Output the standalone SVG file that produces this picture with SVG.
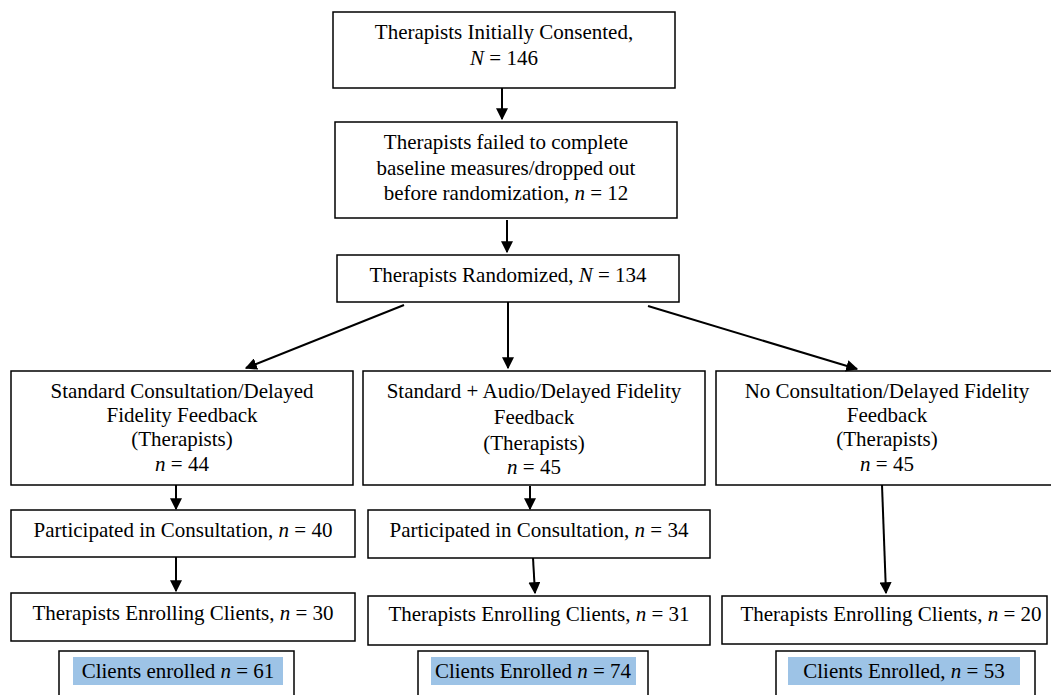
<svg xmlns="http://www.w3.org/2000/svg" width="1051" height="695" viewBox="0 0 1051 695">
<style>
.b{fill:#fff;stroke:#000;stroke-width:1.5}
text{font-family:"Liberation Serif","Times New Roman",serif;font-size:21px;fill:#000;text-anchor:middle}
.hl{fill:#9dc3e6}
.c{stroke:#000;stroke-width:2;fill:none;marker-end:url(#ah)}
</style>
<defs>
<marker id="ah" viewBox="0 0 10 10" refX="9" refY="5" markerWidth="6" markerHeight="6" orient="auto" markerUnits="strokeWidth">
<path d="M0,0L10,5L0,10z" fill="#000"/>
</marker>
</defs>
<rect width="1051" height="695" fill="#fff"/>
<g id="consented"><rect class="b" x="333" y="12" width="342" height="76"/>
<text x="504" y="39">Therapists Initially Consented,</text>
<text x="504" y="65"><tspan font-style="italic">N</tspan> = 146</text></g>
<g id="failed"><rect class="b" x="335" y="122" width="342" height="96"/>
<text x="506" y="149">Therapists failed to complete</text>
<text x="506" y="175">baseline measures/dropped out</text>
<text x="506" y="200">before randomization, <tspan font-style="italic">n</tspan> = 12</text></g>
<g id="randomized"><rect class="b" x="337" y="255" width="342" height="47"/>
<text x="508" y="282">Therapists Randomized, <tspan font-style="italic">N</tspan> = 134</text></g>
<g id="std"><rect class="b" x="11" y="371" width="342" height="114"/>
<text x="182" y="398">Standard Consultation/Delayed</text>
<text x="182" y="422">Fidelity Feedback</text>
<text x="182" y="446">(Therapists)</text>
<text x="182" y="471"><tspan font-style="italic">n</tspan> = 44</text></g>
<g id="audio"><rect class="b" x="363" y="371" width="342" height="114"/>
<text x="534" y="398">Standard + Audio/Delayed Fidelity</text>
<text x="534" y="424">Feedback</text>
<text x="534" y="450">(Therapists)</text>
<text x="534" y="474"><tspan font-style="italic">n</tspan> = 45</text></g>
<g id="none"><rect class="b" x="716" y="371" width="342" height="114"/>
<text x="887" y="398">No Consultation/Delayed Fidelity</text>
<text x="887" y="422">Feedback</text>
<text x="887" y="446">(Therapists)</text>
<text x="887" y="471"><tspan font-style="italic">n</tspan> = 45</text></g>
<g id="part1"><rect class="b" x="11" y="510" width="344" height="47"/>
<text x="183" y="537">Participated in Consultation, <tspan font-style="italic">n</tspan> = 40</text></g>
<g id="part2"><rect class="b" x="368" y="510" width="342" height="48"/>
<text x="539" y="537">Participated in Consultation, <tspan font-style="italic">n</tspan> = 34</text></g>
<g id="enr1"><rect class="b" x="11" y="593" width="344" height="48"/>
<text x="183" y="620">Therapists Enrolling Clients, <tspan font-style="italic">n</tspan> = 30</text></g>
<g id="enr2"><rect class="b" x="368" y="596" width="342" height="49"/>
<text x="539" y="621">Therapists Enrolling Clients, <tspan font-style="italic">n</tspan> = 31</text></g>
<g id="enr3"><rect class="b" x="722" y="596" width="325" height="48"/>
<text x="891" y="621">Therapists Enrolling Clients, <tspan font-style="italic">n</tspan> = 20</text></g>
<g id="cli1"><rect class="b" x="59" y="651" width="235" height="60"/>
<rect class="hl" x="73" y="657" width="210" height="28"/>
<text x="178" y="678">Clients enrolled <tspan font-style="italic">n</tspan> = 61</text></g>
<g id="cli2"><rect class="b" x="418" y="651" width="230" height="60"/>
<rect class="hl" x="431" y="657" width="205" height="28"/>
<text x="533" y="678">Clients Enrolled <tspan font-style="italic">n</tspan> = 74</text></g>
<g id="cli3"><rect class="b" x="776" y="651" width="259" height="60"/>
<rect class="hl" x="788" y="657" width="232" height="28"/>
<text x="904" y="678">Clients Enrolled, <tspan font-style="italic">n</tspan> = 53</text></g>
<g id="connectors">
<line class="c" x1="502" y1="88" x2="502" y2="119"/>
<line class="c" x1="507" y1="220" x2="507" y2="252"/>
<line class="c" x1="404" y1="305" x2="246" y2="368"/>
<line class="c" x1="508" y1="302" x2="508" y2="368"/>
<line class="c" x1="648" y1="306" x2="857" y2="369"/>
<line class="c" x1="176" y1="485" x2="176" y2="509"/>
<line class="c" x1="530" y1="486" x2="530" y2="509"/>
<line class="c" x1="176" y1="557" x2="176" y2="591"/>
<line class="c" x1="533" y1="558" x2="535" y2="593"/>
<line class="c" x1="882" y1="485" x2="886" y2="593"/>
</g>
</svg>
